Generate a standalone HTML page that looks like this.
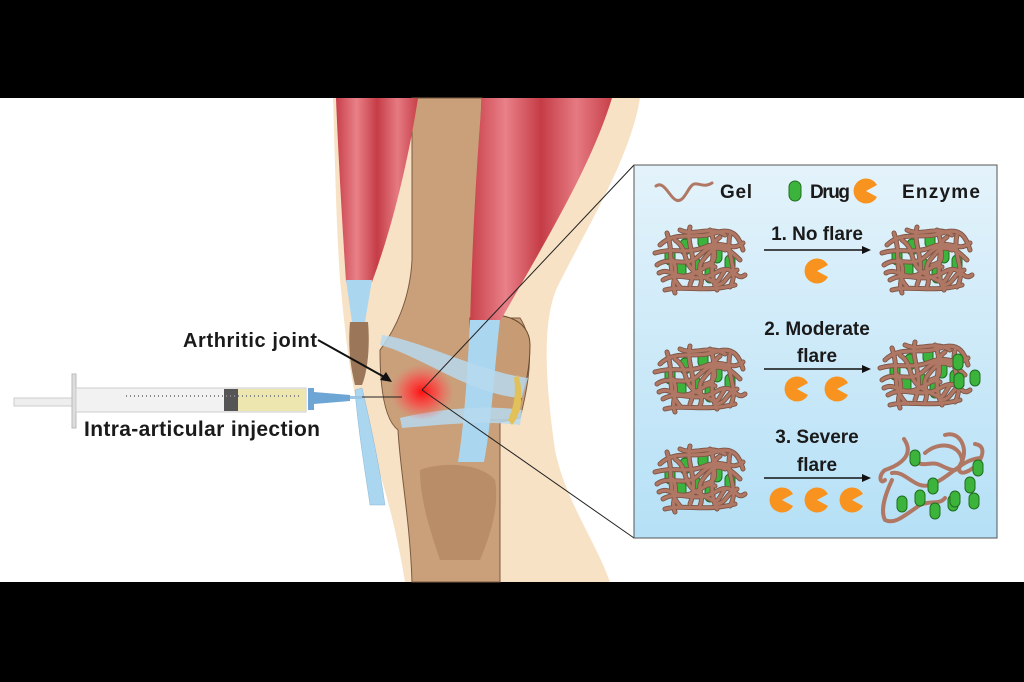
<!DOCTYPE html>
<html><head><meta charset="utf-8"><style>
html,body{margin:0;padding:0;background:#000;}
svg{display:block}
text{font-family:"Liberation Sans",sans-serif;font-weight:bold;fill:#1a1a1a}
</style></head><body>
<svg width="1024" height="682" viewBox="0 0 1024 682" xmlns="http://www.w3.org/2000/svg">
<defs>
<linearGradient id="panel" x1="0" y1="0" x2="0" y2="1">
<stop offset="0" stop-color="#e4f3fb"/><stop offset="1" stop-color="#b5e0f6"/></linearGradient>
<linearGradient id="mus" x1="0" y1="0" x2="1" y2="0">
<stop offset="0" stop-color="#c8404a"/><stop offset="0.25" stop-color="#e98088"/><stop offset="0.5" stop-color="#c53c46"/><stop offset="0.75" stop-color="#e57a82"/><stop offset="1" stop-color="#c8404a"/></linearGradient>
<radialGradient id="glow"><stop offset="0" stop-color="#ff1010"/><stop offset="0.5" stop-color="#ff4040" stop-opacity="0.7"/><stop offset="1" stop-color="#ff6060" stop-opacity="0"/></radialGradient>
<g id="pill"><rect x="-5" y="-8" width="10" height="16" rx="5" fill="#3cb43c" stroke="#1f6e1f" stroke-width="1"/></g>
<g id="enz"><path d="M0,0 L11,-6 A12.5,12.5 0 1 0 11,6 Z" fill="#f7931e"/></g>
<g id="blob">
<use href="#pill" x="30" y="22"/><use href="#pill" x="48" y="15"/><use href="#pill" x="62" y="30"/><use href="#pill" x="26" y="45"/><use href="#pill" x="40" y="40"/><use href="#pill" x="55" y="50"/><use href="#pill" x="75" y="38"/><use href="#pill" x="15" y="32"/>
<g fill="none" stroke="#7d5444" stroke-width="5" stroke-linecap="round" id="strands">
<path d="M5,20 C20,5 40,15 60,8 S85,15 88,25"/>
<path d="M2,40 C15,30 30,45 45,30 S70,20 85,35"/>
<path d="M8,55 C25,45 40,60 60,48 S80,58 90,50"/>
<path d="M12,8 C20,30 10,45 25,62"/>
<path d="M35,2 C30,20 45,35 35,60"/>
<path d="M55,5 C65,25 50,40 62,65"/>
<path d="M75,10 C70,30 85,45 75,62"/>
<path d="M0,28 C20,22 30,30 50,22 S75,28 88,18"/>
<path d="M10,65 C30,60 50,68 80,60"/>
<path d="M20,15 C35,25 25,40 45,50 S60,60 70,45"/>
<path d="M65,12 C50,22 70,35 50,40"/>
<path d="M4,48 C15,42 20,55 35,50 S50,38 60,42"/>
<path d="M25,5 C40,12 55,0 70,10"/>
<path d="M45,62 C50,50 40,45 48,35 S60,20 70,25"/>
<path d="M82,45 C70,50 72,60 60,60"/>
<path d="M18,35 C25,50 15,55 20,68"/>
</g>
<g fill="none" stroke="#b07864" stroke-width="3.2" stroke-linecap="round">
<path d="M5,20 C20,5 40,15 60,8 S85,15 88,25"/>
<path d="M2,40 C15,30 30,45 45,30 S70,20 85,35"/>
<path d="M8,55 C25,45 40,60 60,48 S80,58 90,50"/>
<path d="M12,8 C20,30 10,45 25,62"/>
<path d="M35,2 C30,20 45,35 35,60"/>
<path d="M55,5 C65,25 50,40 62,65"/>
<path d="M75,10 C70,30 85,45 75,62"/>
<path d="M0,28 C20,22 30,30 50,22 S75,28 88,18"/>
<path d="M10,65 C30,60 50,68 80,60"/>
<path d="M20,15 C35,25 25,40 45,50 S60,60 70,45"/>
<path d="M65,12 C50,22 70,35 50,40"/>
<path d="M4,48 C15,42 20,55 35,50 S50,38 60,42"/>
<path d="M25,5 C40,12 55,0 70,10"/>
<path d="M45,62 C50,50 40,45 48,35 S60,20 70,25"/>
<path d="M82,45 C70,50 72,60 60,60"/>
<path d="M18,35 C25,50 15,55 20,68"/>
</g></g>
</defs>
<rect x="0" y="0" width="1024" height="682" fill="#000"/>
<rect x="0" y="98" width="1024" height="484" fill="#fff"/>
<!-- skin -->
<path d="M333,98 L640,98 C630,160 585,230 556,290 C540,330 548,400 555,450 C565,500 595,540 610,582 L405,582 C395,520 380,470 365,430 C350,390 345,330 340,280 C336,220 335,160 333,98 Z" fill="#f8e2c6"/>
<!-- femur -->
<path d="M412,98 L482,98 C478,180 476,260 480,318 L520,318 C535,340 530,380 520,418 L500,422 L500,582 L412,582 C410,520 400,470 398,430 C385,420 380,390 380,350 C395,330 410,300 412,260 Z" fill="#c9a07a" stroke="#7a5a40" stroke-width="1"/>
<path d="M470,318 C500,310 530,318 530,345 C530,380 520,400 515,420 L470,420 Z" fill="#c79c74" stroke="#6a4a30" stroke-width="1"/>
<path d="M420,470 C440,462 480,462 495,480 C500,510 488,540 480,560 L440,560 C430,530 420,500 420,470Z" fill="#b58a64" opacity="0.85"/>
<path d="M336,98 L418,98 C410,150 395,220 372,282 L346,282 C342,220 338,150 336,98Z" fill="url(#mus)"/>
<path d="M482,98 L612,98 C590,170 540,250 498,325 L470,325 C472,250 476,170 482,98Z" fill="url(#mus)"/>
<path d="M346,280 L372,280 L365,322 L352,322Z" fill="#aad6f0"/>
<path d="M350,322 L368,322 C370,345 368,370 362,385 L355,385 C350,365 348,345 350,322Z" fill="#9b7658"/>
<path d="M362,388 C372,430 380,470 385,505 L370,505 C365,470 358,430 355,390Z" fill="#aad6f0" stroke="#8cb8d6" stroke-width="0.5"/>
<path d="M470,320 L500,320 C495,360 492,420 484,462 L458,462 C465,420 468,360 470,320Z" fill="#aad6f0"/>
<path d="M380,345 C420,355 470,395 522,398 L528,378 C480,372 420,340 382,335Z" fill="#b7d9ee" opacity="0.85"/>
<path d="M400,418 C440,408 490,405 522,410 L520,425 C480,420 440,425 402,428Z" fill="#b7d9ee" opacity="0.85"/>
<path d="M518,375 C524,390 522,415 512,425 L508,420 C515,405 516,390 514,378Z" fill="#e2c15a"/>
<ellipse cx="422" cy="392" rx="32" ry="28" fill="url(#glow)"/>
<line x1="422" y1="390" x2="634" y2="165" stroke="#222" stroke-width="1"/>
<line x1="422" y1="390" x2="634" y2="538" stroke="#222" stroke-width="1"/>
<line x1="362" y1="397" x2="402" y2="397" stroke="#222" stroke-width="1"/>
<line x1="318" y1="340" x2="386" y2="378" stroke="#111" stroke-width="2"/>
<path d="M392,382 L380,380 L386,372Z" fill="#111"/>
<text x="183" y="347" font-size="20" textLength="134">Arthritic joint</text>
<text x="84" y="436" font-size="21" textLength="236">Intra-articular injection</text>
<rect x="14" y="398" width="62" height="8" fill="#eee" stroke="#ccc"/>
<rect x="72" y="374" width="4" height="54" fill="#ddd" stroke="#bbb"/>
<rect x="76" y="388" width="230" height="24" fill="#f2f2f2" stroke="#ccc"/>
<rect x="237" y="389" width="68" height="22" fill="#ede6ae"/>
<rect x="224" y="389" width="14" height="22" fill="#555"/>
<line x1="126" y1="396" x2="300" y2="396" stroke="#888" stroke-dasharray="1 3" stroke-width="2"/>
<path d="M308,388 L314,388 L314,392 L350,395 L350,401 L314,404 L314,410 L308,410Z" fill="#6da6d4"/>
<rect x="350" y="396" width="12" height="3" fill="#9cc4e4"/>
<rect x="634" y="165" width="363" height="373" fill="url(#panel)" stroke="#555" stroke-width="1"/>
<path d="M656,186 C664,180 670,198 676,200 C684,204 688,186 694,184 C700,183 704,188 712,183" fill="none" stroke="#b07864" stroke-width="3" stroke-linecap="round"/>
<text x="720" y="198" font-size="19" textLength="32">Gel</text>
<rect x="789" y="181" width="12" height="20" rx="6" fill="#3cb43c" stroke="#1f6e1f"/>
<text x="810" y="198" font-size="19" textLength="40">Drug</text>
<use href="#enz" x="866" y="191"/>
<text x="902" y="198" font-size="19" textLength="78">Enzyme</text>
<use href="#blob" x="655" y="225"/>
<use href="#blob" x="882" y="225"/>
<text x="817" y="240" font-size="19" text-anchor="middle">1. No flare</text>
<line x1="764" y1="250" x2="866" y2="250" stroke="#111" stroke-width="1.5"/><path d="M871,250 L862,246 L862,254Z" fill="#111"/>
<use href="#enz" x="817" y="271"/>
<use href="#blob" x="655" y="344"/>
<use href="#blob" x="880" y="340"/>
<use href="#pill" x="958" y="362"/><use href="#pill" x="975" y="378"/><use href="#pill" x="959" y="381"/>
<text x="817" y="335" font-size="19" text-anchor="middle">2. Moderate</text>
<text x="817" y="362" font-size="19" text-anchor="middle">flare</text>
<line x1="764" y1="369" x2="866" y2="369" stroke="#111" stroke-width="1.5"/><path d="M871,369 L862,365 L862,373Z" fill="#111"/>
<use href="#enz" x="797" y="389"/><use href="#enz" x="837" y="389"/>
<use href="#blob" x="655" y="444"/>
<g fill="none" stroke="#b07864" stroke-width="4" stroke-linecap="round">
<path d="M904,439 C915,455 900,465 885,470 C878,475 880,485 885,480"/>
<path d="M925,453 C940,440 960,445 962,460 C960,475 950,470 940,465 C930,460 920,470 915,458"/>
<path d="M945,435 C960,430 970,450 960,465 C955,480 975,470 980,460 C985,450 982,445 975,444"/>
<path d="M892,473 C905,470 915,490 930,485 C950,478 960,460 980,458"/>
<path d="M892,480 C885,495 880,510 885,520 C895,525 905,515 920,505 C930,500 940,505 945,498"/>
</g>
<use href="#pill" x="915" y="458"/><use href="#pill" x="978" y="468"/><use href="#pill" x="933" y="486"/><use href="#pill" x="970" y="485"/><use href="#pill" x="920" y="498"/><use href="#pill" x="953" y="503"/><use href="#pill" x="902" y="504"/><use href="#pill" x="974" y="501"/><use href="#pill" x="935" y="511"/><use href="#pill" x="955" y="499"/>
<text x="817" y="443" font-size="19" text-anchor="middle">3. Severe</text>
<text x="817" y="471" font-size="19" text-anchor="middle">flare</text>
<line x1="764" y1="478" x2="866" y2="478" stroke="#111" stroke-width="1.5"/><path d="M871,478 L862,474 L862,482Z" fill="#111"/>
<use href="#enz" x="782" y="500"/><use href="#enz" x="817" y="500"/><use href="#enz" x="852" y="500"/>
</svg>
</body></html>
